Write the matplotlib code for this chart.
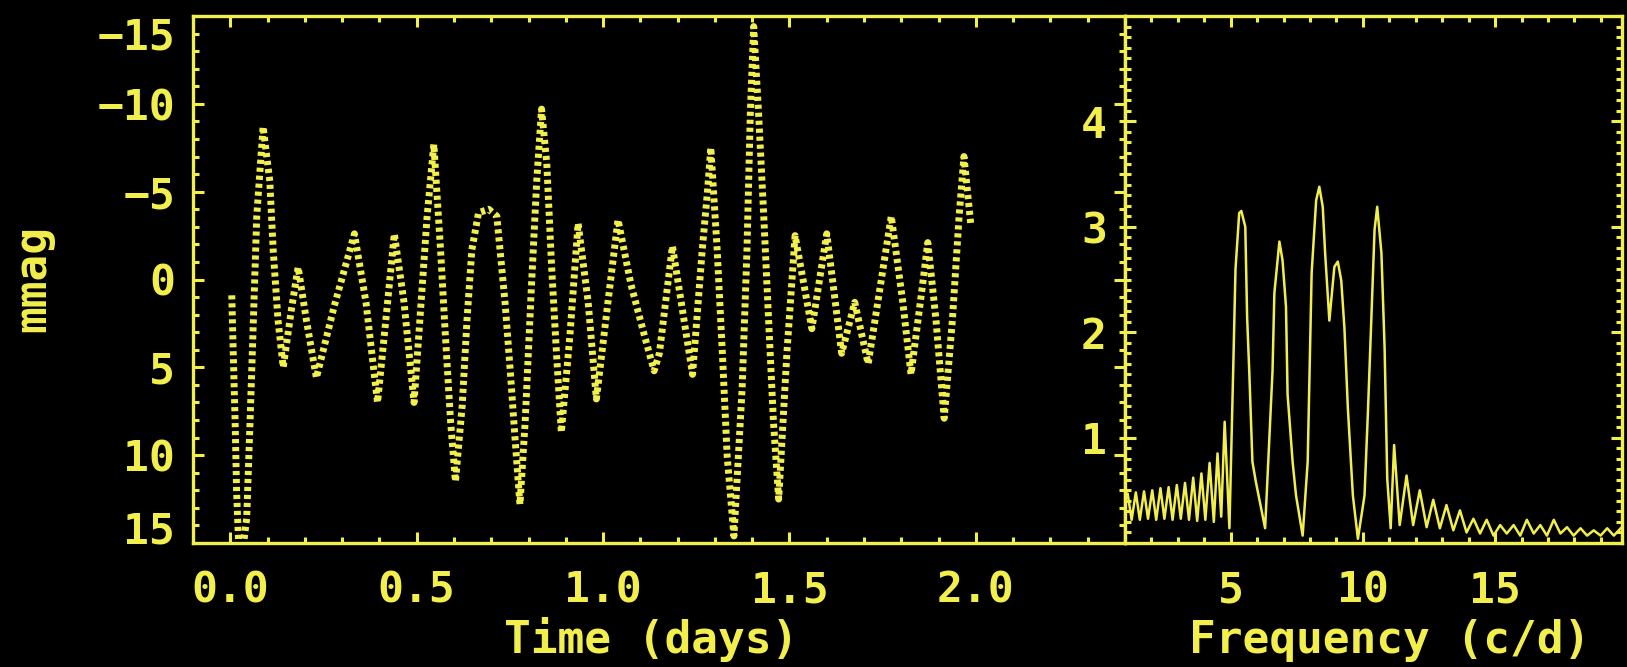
import matplotlib
matplotlib.use("Agg")
import matplotlib.pyplot as plt
from matplotlib.ticker import MultipleLocator, FixedLocator

YEL = "#f2ef4c"
FONT = "DejaVu Sans Mono"

# light curve (time in days, mmag; brighter = negative)
time_d = [0.004, 0.008, 0.013, 0.017, 0.022, 0.030, 0.044, 0.053, 0.062, 0.071,
          0.084, 0.088, 0.106, 0.115, 0.128, 0.142, 0.164, 0.182, 0.204, 0.231,
          0.279, 0.333, 0.364, 0.395, 0.422, 0.440, 0.466, 0.493, 0.528, 0.546,
          0.564, 0.577, 0.591, 0.604, 0.622, 0.635, 0.648, 0.666, 0.693, 0.715,
          0.737, 0.751, 0.764, 0.777, 0.791, 0.808, 0.822, 0.835, 0.849, 0.862,
          0.875, 0.888, 0.911, 0.933, 0.960, 0.982, 1.013, 1.040, 1.075, 1.111,
          1.137, 1.151, 1.186, 1.240, 1.266, 1.280, 1.289, 1.306, 1.320, 1.333,
          1.351, 1.373, 1.386, 1.395, 1.404, 1.417, 1.431, 1.444, 1.457, 1.471,
          1.493, 1.515, 1.560, 1.600, 1.640, 1.675, 1.711, 1.773, 1.804, 1.826,
          1.857, 1.871, 1.893, 1.915, 1.937, 1.955, 1.968, 1.986]
mmag = [0.9, 4.2, 8.1, 12.1, 14.8, 16.0, 13.6, 8.1, 2.3, -3.6,
        -7.5, -8.7, -5.6, -1.7, 2.3, 5.0, 1.7, -0.7, 2.3, 5.6,
        1.5, -2.6, 1.3, 7.0, 1.3, -2.6, 1.3, 7.0, -3.6, -7.7,
        -1.7, 3.2, 8.1, 11.5, 7.2, 2.3, -1.7, -3.8, -4.0, -3.6,
        1.3, 5.2, 9.1, 12.8, 8.1, 0.3, -5.6, -9.7, -6.6, -0.7,
        4.2, 8.7, 3.2, -3.2, 1.3, 6.8, 1.3, -3.4, 0.3, 3.2,
        5.2, 4.2, -1.9, 5.4, -1.7, -5.0, -7.5, -1.7, 4.2, 10.1,
        14.6, 6.2, -1.7, -9.5, -14.4, -9.5, -3.6, 2.3, 8.1, 12.5,
        4.2, -2.5, 2.8, -2.6, 4.2, 1.3, 4.8, -3.6, 1.3, 5.4,
        0.3, -2.1, 2.3, 7.9, 2.3, -3.6, -7.0, -3.2]

# amplitude spectrum (c/d, mmag)
freq = [1.00, 1.10, 1.25, 1.41, 1.56, 1.72, 1.87, 2.03, 2.18, 2.34,
        2.49, 2.65, 2.80, 2.96, 3.11, 3.27, 3.42, 3.58, 3.73, 3.89,
        4.04, 4.20, 4.36, 4.50, 4.64, 4.77, 4.95, 5.10, 5.18, 5.32,
        5.40, 5.55, 5.62, 5.70, 5.82, 5.95, 6.30, 6.58, 6.65, 6.84,
        6.96, 7.09, 7.15, 7.34, 7.47, 7.72, 7.91, 8.06, 8.23, 8.35,
        8.48, 8.57, 8.73, 8.92, 9.05, 9.18, 9.30, 9.43, 9.62, 9.81,
        10.06, 10.19, 10.32, 10.44, 10.54, 10.70, 10.82, 10.92, 11.05, 11.18,
        11.39, 11.65, 11.90, 12.15, 12.41, 12.66, 12.91, 13.16, 13.42, 13.67,
        13.92, 14.18, 14.43, 14.68, 14.94, 15.19, 15.44, 15.70, 15.95, 16.20,
        16.46, 16.71, 16.96, 17.22, 17.47, 17.72, 17.97, 18.23, 18.48, 18.73,
        18.99, 19.24, 19.49, 19.75]
amp = [0.40, 0.47, 0.22, 0.48, 0.22, 0.49, 0.23, 0.50, 0.22, 0.52,
       0.23, 0.53, 0.22, 0.55, 0.23, 0.57, 0.22, 0.62, 0.21, 0.66,
       0.22, 0.76, 0.20, 0.85, 0.25, 1.15, 0.14, 1.72, 2.60, 3.13,
       3.15, 3.00, 2.14, 1.63, 0.77, 0.58, 0.14, 1.63, 2.37, 2.86,
       2.68, 2.24, 1.41, 0.77, 0.45, 0.07, 0.77, 2.56, 3.25, 3.38,
       3.19, 2.75, 2.11, 2.62, 2.67, 2.49, 2.04, 1.28, 0.45, 0.04,
       0.45, 1.25, 2.14, 2.97, 3.19, 2.75, 1.85, 0.61, 0.14, 0.93,
       0.17, 0.64, 0.17, 0.50, 0.15, 0.41, 0.14, 0.36, 0.12, 0.31,
       0.10, 0.23, 0.09, 0.22, 0.07, 0.17, 0.09, 0.17, 0.07, 0.22,
       0.09, 0.17, 0.07, 0.22, 0.09, 0.15, 0.07, 0.14, 0.07, 0.12,
       0.07, 0.14, 0.07, 0.14]

lc_xticks = [0.0, 0.5, 1.0, 1.5, 2.0]
lc_yticks = [-15, -10, -5, 0, 5, 10, 15]
sp_xticks = [5, 10, 15]
sp_yticks = [1, 2, 3, 4]

plt.rcParams["font.family"] = [FONT, "DejaVu Sans"]
plt.rcParams["font.weight"] = "bold"
plt.rcParams["axes.labelweight"] = "bold"
fig = plt.figure(figsize=(16.27, 6.67), dpi=100, facecolor="black")
W, H = 1627, 667
x0, xd, x1 = 193, 1125, 1622
ytop, ybot = 16, 543
axl = fig.add_axes([x0 / W, 1 - ybot / H, (xd - x0) / W, (ybot - ytop) / H])
axr = fig.add_axes([xd / W, 1 - ybot / H, (x1 - xd) / W, (ybot - ytop) / H])

for ax in (axl, axr):
    ax.set_facecolor("black")
    for s in ax.spines.values():
        s.set_color(YEL)
        s.set_linewidth(2.4)
    ax.tick_params(which="both", direction="in", colors=YEL, width=2.2,
                   top=True, right=True, labelsize=31, pad=13)
    ax.tick_params(which="major", length=8)
    ax.tick_params(which="minor", length=4.5)
    ax.tick_params(axis="x", pad=19)

# light curve
axl.plot(time_d, mmag, color=YEL, lw=5, ls=(0, (0.6, 0.55)))
axl.set_xlim(-0.1, 2.4)
axl.set_ylim(15, -15)
axl.xaxis.set_major_locator(FixedLocator(lc_xticks))
axl.set_xticklabels([f"{v:.1f}" for v in lc_xticks])
axl.xaxis.set_minor_locator(MultipleLocator(0.1))
axl.yaxis.set_major_locator(FixedLocator(lc_yticks))
axl.set_yticklabels([f"{v}".replace("-", "\u2212") for v in lc_yticks])
axl.yaxis.set_minor_locator(MultipleLocator(1))
labs = axl.get_yticklabels()
labs[0].set_va("top")
labs[-1].set_va("baseline")
axl.set_ylabel("mmag", color=YEL, fontsize=32, fontweight="bold", va="center")
axl.yaxis.set_label_coords(-(x0 - 33) / (xd - x0), (ybot - 278) / (ybot - ytop))
axl.set_xlabel("Time (days)", color=YEL, fontsize=32, fontweight="bold", va="center")
axl.xaxis.set_label_coords((651 - x0) / (xd - x0), -(640 - ybot) / (ybot - ytop))

# amplitude spectrum
axr.plot(freq, amp, color=YEL, lw=1.8)
axr.set_xlim(1, 19.8)
axr.set_ylim(0, 5)
axr.xaxis.set_major_locator(FixedLocator(sp_xticks))
axr.xaxis.set_minor_locator(MultipleLocator(1))
axr.yaxis.set_major_locator(FixedLocator(sp_yticks))
axr.yaxis.set_minor_locator(MultipleLocator(0.1))
axr.set_xlabel("Frequency (c/d)", color=YEL, fontsize=32, fontweight="bold", va="center")
axr.xaxis.set_label_coords((1390 - xd) / (x1 - xd), -(640 - ybot) / (ybot - ytop))

fig.savefig("out.png", dpi=100, facecolor="black")
